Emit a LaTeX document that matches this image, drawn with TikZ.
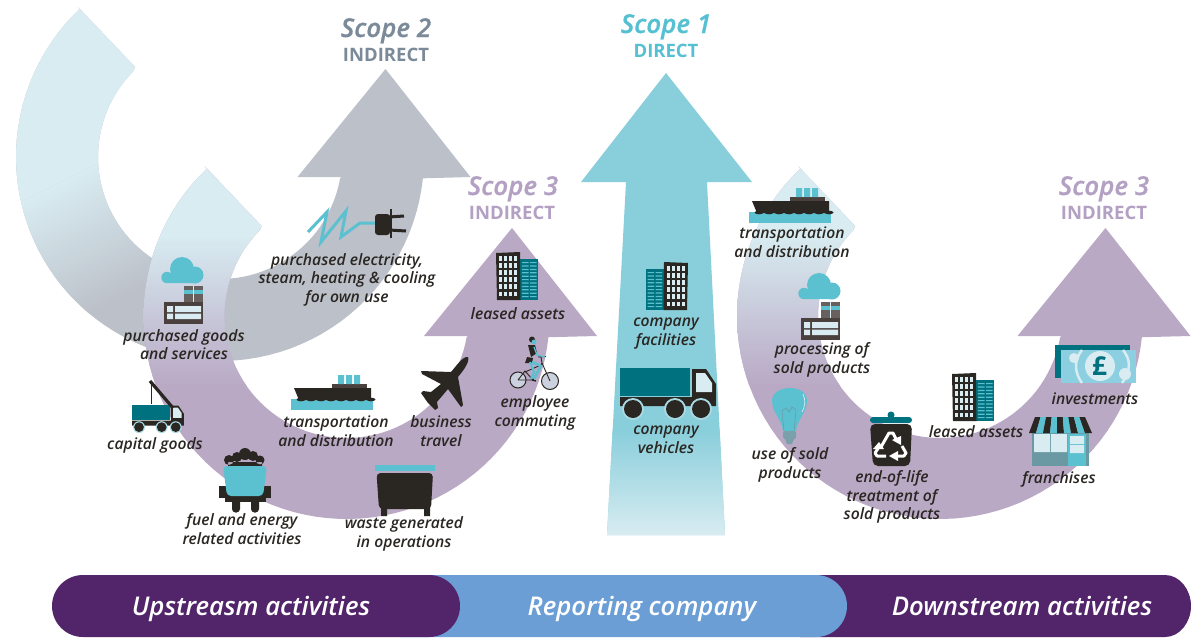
\documentclass[tikz,border=0pt]{standalone}
\usepackage{fontspec}
\setmainfont{Open Sans}[ItalicFont={Open Sans Semibold Italic}]
\definecolor{pale}{HTML}{D8ECF1}
\definecolor{graya}{HTML}{BCC0C9}
\definecolor{purp}{HTML}{B9A9C5}
\definecolor{sky}{HTML}{89CEDB}
\definecolor{dark}{HTML}{2A2622}
\definecolor{teal}{HTML}{00727F}
\definecolor{cyan}{HTML}{5BC0D0}
\definecolor{brown}{HTML}{68605E}
\definecolor{brownd}{HTML}{4A413F}
\definecolor{barpurple}{HTML}{52246A}
\definecolor{barblue}{HTML}{6C9ED6}
\definecolor{sctwo}{HTML}{7B8A99}
\definecolor{scone}{HTML}{55C0D1}
\definecolor{scthree}{HTML}{B3A0C3}
\definecolor{shopgray}{HTML}{6A99A3}
\definecolor{moneyb}{HTML}{8BCFE0}
\tikzset{
  lab/.style={font=\fontsize{15.7}{18.5}\selectfont\itshape,text=dark,align=center,inner sep=0pt},
  sctitle/.style={font=\fontsize{26}{28}\selectfont\itshape\addfontfeature{FakeBold=0.6},inner sep=0pt,anchor=base},
  scsub/.style={font=\fontsize{18.5}{22}\selectfont\bfseries,inner sep=0pt,anchor=base},
  barlab/.style={font=\fontsize{25.8}{28}\selectfont\itshape,text=white,inner sep=0pt,anchor=base}
}
% curved arrow outline: centre x, centre y, outer and inner radius
\newcommand{\carrow}[4]{
  ({#1-142},{#2-150}) -- plot[domain=226.5:6,samples=70] ({#1+#3*cos(\x)},{#2+#3*sin(\x)})
  -- ({#1+250.5},{#2+20}) -- ({#1+165.5},{#2-88}) -- ({#1+77.5},{#2+20}) -- ({#1+#4},{#2+20})
  -- plot[domain=10:225,samples=70] ({#1+#4*cos(\x)},{#2+#4*sin(\x)}) -- ({#1-85},{#2-90}) -- cycle}
\newcommand{\factoryicon}{
  \fill[cyan,rounded corners=2pt] (166,276) rectangle (196,283);
  \fill[cyan] (182,269) circle (12) (167,277.5) circle (5.7) (195,275) circle (8.5);
  \fill[brown] (184,286) rectangle (203,302);
  \fill[cyan] (184,289.5) rectangle (203,294);
  \fill[pale] (193.3,286) rectangle (194.1,302);
  \fill[brownd] (164,302) rectangle (203,324);
  \fill[pale] (167,306) rectangle (173,312) (167,313.5) rectangle (173,319) (175,306) rectangle (201,312) (175,313.5) rectangle (201,319);
}
\newcommand{\shipicon}{
  \fill[cyan] (291,399) rectangle (373,410);
  \fill[dark] (294,388) -- (371,388) -- (371,400) -- (299,400) -- cycle;
  \foreach \i in {0,...,7} \fill[dark] (301+\i*10,399.5) ellipse (4.5 and 1.8);
  \fill[brownd] (332,384) rectangle (367,388);
  \fill[cyan] (338,375) rectangle (344,384) (346,375) rectangle (352,384) (354,375) rectangle (360,384);
}
\newcommand{\buildingicon}{
  \fill[teal] (24,7) rectangle (42,48);
  \foreach \r in {0,...,10} {
    \fill[cyan] (26,10+\r*3.4) rectangle (32.5,11.2+\r*3.4) (34,10+\r*3.4) rectangle (40.5,11.2+\r*3.4);
  }
  \fill[dark] (0,1) -- (24,0) -- (24.5,48) -- (1,48) -- cycle;
  \foreach \c in {0,1,2,3} \foreach \r in {0,...,5}
    \fill[pale] (3+\c*5,4+\r*7.1) rectangle (6.3+\c*5,8.8+\r*7.1);
}
\newcommand{\truckicon}{
  \fill[teal] (0,0) rectangle (70,28);
  \fill[dark] (72,1) -- (86,1) -- (96,16) -- (96,38) -- (0,38) -- (0,29) -- (72,29) -- cycle;
  \fill[pale] (76,5) -- (85,5) -- (92,15) -- (92,24) -- (76,24) -- cycle;
  \foreach \a in {13,55,81} {
    \fill[sky!60!pale] (\a,41) circle (11);
    \fill[dark] (\a,41) circle (9);
  }
}
\begin{document}
\begin{tikzpicture}[x=1pt,y=-1pt]
\useasboundingbox (0,0) rectangle (1191,637);
\fill[white] (0,0) rectangle (1191,637);

% --- Scope 2 arrow
\fill[graya] \carrow{220}{157}{204}{122};
\begin{scope}
  \clip \carrow{220}{157}{204}{122};
  \clip (0,0) rectangle (222,400);
  \begin{scope}[transform canvas={rotate around={26.7:(0,0)}}]
    \fill[pale] (-600,-400) rectangle (800,190);
    \shade[top color=pale,bottom color=graya] (-600,190) rectangle (800,320);
  \end{scope}
\end{scope}

% --- Scope 3 left arrow
\fill[purp] \carrow{346.5}{316}{203}{122};
\begin{scope}
  \clip \carrow{346.5}{316}{203}{122};
  \clip (100,100) rectangle (346,600);
  \fill[pale] (100,100) rectangle (346,235);
  \shade[top color=pale,bottom color=purp] (100,235) rectangle (346,385);
\end{scope}

% --- Scope 3 right arrow
\fill[purp] \carrow{940}{316}{203}{122};
\begin{scope}
  \clip \carrow{940}{316}{203}{122};
  \clip (700,100) rectangle (939,600);
  \fill[pale] (700,100) rectangle (939,235);
  \shade[top color=pale,bottom color=purp] (700,235) rectangle (939,385);
\end{scope}

% --- Scope 1 arrow
\fill[sky] (666,73) -- (752,182) -- (707,182) -- (725,535) -- (607,535) -- (626,182) -- (581,182) -- cycle;
\begin{scope}
  \clip (666,73) -- (752,182) -- (707,182) -- (725,535) -- (607,535) -- (626,182) -- (581,182) -- cycle;
  \shade[top color=sky,bottom color=pale] (590,430) rectangle (740,535);
\end{scope}

% --- bottom bar
\fill[barpurple] (800,575) -- (1165,575) .. controls (1180,575) and (1191,590) .. (1191,606) .. controls (1191,622) and (1180,637) .. (1165,637) -- (800,637) -- cycle;
\fill[barblue] (400,575) -- (816,575) .. controls (833.1,575) and (847,588.9) .. (847,606) .. controls (847,623.1) and (833.1,637) .. (816,637) -- (400,637) -- cycle;
\fill[barpurple] (83,575) -- (429,575) .. controls (446.1,575) and (460,588.9) .. (460,606) .. controls (460,623.1) and (446.1,637) .. (429,637) -- (83,637) .. controls (65.9,637) and (52,623.1) .. (52,606) .. controls (52,588.9) and (65.9,575) .. (83,575) -- cycle;
\node[barlab] (up) at (251,615) {Upstreasm activities};
\node[barlab] (rep) at (642,615) {Reporting company};
\node[barlab] (down) at (1022,615) {Downstream activities};

% --- titles
\node[sctitle,text=sctwo] (s2) at (386,37) {Scope 2};
\node[scsub,text=sctwo] (s2b) at (386,61) {INDIRECT};
\node[sctitle,text=scone] (s1) at (666,33) {Scope 1};
\node[scsub,text=scone] (s1b) at (666,57) {DIRECT};
\node[sctitle,text=scthree] (s3) at (513,195) {Scope 3};
\node[scsub,text=scthree] (s3b) at (512,219) {INDIRECT};
\node[sctitle,text=scthree] (s3r) at (1104,195) {Scope 3};
\node[scsub,text=scthree] (s3rb) at (1104,219) {INDIRECT};

% --- icons
\factoryicon
\begin{scope}[shift={(637,16)}]\factoryicon\end{scope}
\shipicon
\begin{scope}[shift={(458,-187)}]\shipicon\end{scope}
\begin{scope}[shift={(496,252)}]\buildingicon\end{scope}
\begin{scope}[shift={(952,373)}]\buildingicon\end{scope}
\begin{scope}[shift={(688,262)},xscale=-1]\buildingicon\end{scope}
\begin{scope}[shift={(620,368)}]\truckicon\end{scope}
\begin{scope}[shift={(132,405)},scale=0.54]\truckicon\end{scope}
% crane
\draw[dark,line width=3.2pt] (150,381) -- (173,408);
\draw[dark,line width=0.8pt] (151,383) -- (151,404);

% plug
\draw[cyan,line width=3pt,line join=miter] (308,232) -- (327,212) -- (321,242) -- (346,211) -- (341,237) -- (360,223) -- (376,223);
\fill[dark,rounded corners=3pt] (375,214) rectangle (390,235);
\draw[dark,line width=2pt] (391,209) -- (391,238);
\draw[dark,line width=3pt] (389,217) -- (404,216);
\draw[dark,line width=3pt] (389,230) -- (406,231);

% plane
\fill[dark] (468,357) .. controls (470,362) and (463,371) .. (458,377) -- (463,405) -- (461,407) -- (448,389) -- (437,402) -- (438,408) -- (435,410) -- (428,403) -- (421,393) -- (423,391) -- (431,392) -- (441,384) -- (422,374) -- (421,371) -- (451,372) .. controls (457,365) and (463,356) .. (468,357) -- cycle;

% cyclist
\draw[dark,fill=pale!60!purp,line width=1pt] (518,380) circle (8) (550,381) circle (8.5);
\draw[dark,line width=0.9pt] (518,380) -- (533,380) -- (525,371) -- (518,380) (525,372) -- (541,365) (533,380) -- (542,363) -- (550,381) (538,357) -- (546,356.5) (542,363) -- (541,357);
\fill[dark] (532,339.5) circle (3);
\fill[cyan] (534,342) circle (2.4);
\fill[dark] (528,345) -- (535,345) -- (537,353) -- (531,357) -- cycle;
\fill[dark] (527,357) -- (533,358) -- (532,363) -- (525,363) -- cycle;
\draw[cyan,line width=1.3pt] (534,347) -- (537,355) -- (545,357);
\draw[cyan,line width=2.6pt,line join=round] (532,362) -- (541,366) -- (534,379);
\draw[cyan,line width=2.2pt,line join=round] (530,362) -- (534,372) -- (531,379);
\draw[dark,line width=1.4pt] (532,380) -- (536,381);

% mine cart
\fill[dark] (219,486) rectangle (271,498);
\fill[dark] (225,498) rectangle (266,502);
\fill[dark,rounded corners=3.5pt] (232,498) rectangle (240,512.5) (251,498) rectangle (259,512.5);
\fill[dark] (229,460) circle (5) (237,457) circle (5) (245,454) circle (6) (253,456) circle (5) (260,460) circle (4.5) (228,462) rectangle (262,468);
\fill[cyan,rounded corners=4pt] (223,466) -- (267,466) -- (263,496) -- (227,496) -- cycle;

% waste bin
\fill[cyan] (375,465) rectangle (435,471);
\fill[dark] (381,505) rectangle (387,516) (424,505) rectangle (430,516);
\fill[dark,rounded corners=4pt] (376.5,473) -- (433,473) -- (431,509) -- (379,509) -- cycle;

% bulb
\fill[cyan] (783,431) .. controls (782,420) and (772,412) .. (772,401) .. controls (772,393) and (780,388) .. (790,388) .. controls (800,388) and (807,393) .. (807,401) .. controls (807,412) and (797,420) .. (796,431) -- cycle;
\fill[shopgray!80!graya,rounded corners=1.5pt] (783,431) rectangle (796,439);
\fill[shopgray!80!graya] (785,439) -- (794,439) -- (792,444) -- (787,444) -- cycle;
\draw[shopgray,line width=0.5pt] (784,431) -- (782,411) -- (786,408) -- (789,412) -- (792,407) -- (796,410) -- (794,431);
\draw[pale,line width=0.7pt] (803,394) .. controls (806,400) and (805,407) .. (802,412);

% recycle bin
\fill[teal] (891,415) circle (3.5);
\fill[teal,rounded corners=3pt] (870,417) rectangle (912,423);
\fill[dark,rounded corners=5pt] (870,424) -- (912,424) -- (910,466) -- (873,466) -- cycle;
\draw[white,line width=3pt,line join=round] (881,447) -- (889,433) -- (893,433) -- (896,439);
\fill[white] (892,440) -- (901,436) -- (901,445) -- cycle;
\draw[white,line width=3pt,line join=round] (902,446) -- (906,453) -- (904,456) -- (897,456);
\fill[white] (898,451) -- (889,456) -- (898,461) -- cycle;
\draw[white,line width=3pt,line join=round] (886,456) -- (877,456) -- (875,453) -- (879,447);
\fill[white] (873,449) -- (884,449) -- (879,442) -- cycle;

% money
\fill[teal] (1055,345) rectangle (1130,378);
\fill[moneyb] (1061,350) rectangle (1136,383);
\fill[pale] (1074,358) circle (5) (1125,374) circle (6);
\draw[pale,line width=2.5pt] (1082,350) .. controls (1074,360) and (1074,372) .. (1082,383) (1123,350) .. controls (1131,360) and (1131,370) .. (1122,383);
\fill[pale] (1100,366) circle (15);
\node[inner sep=0pt,text=teal,font=\fontsize{26}{26}\selectfont\bfseries] (pound) at (1099.5,366) {£};

% shop
\fill[shopgray] (1032,433) rectangle (1089,466);
\fill[pale] (1034,434) rectangle (1050,452) (1051,434) rectangle (1067,452);
\fill[cyan] (1068,434) rectangle (1086,466);
\fill[pale] (1070,436) rectangle (1084,444) (1070,445) rectangle (1084,453);
\foreach \i in {0,...,8} {
  \pgfmathsetmacro{\ta}{1035+\i*50/9}\pgfmathsetmacro{\tb}{1035+(\i+1)*50/9}
  \pgfmathsetmacro{\ba}{1029+\i*63/9}\pgfmathsetmacro{\bb}{1029+(\i+1)*63/9}
  \pgfmathparse{int(mod(\i,2))}
  \ifnum\pgfmathresult=0 \fill[dark] (\ta,417) -- (\tb,417) -- (\bb,433) -- (\ba,433) -- cycle;
  \else \fill[cyan] (\ta,417) -- (\tb,417) -- (\bb,433) -- (\ba,433) -- cycle; \fi
}

% --- labels
\node[lab] (l1) at (347,279.5) {purchased electricity,\\steam, heating \& cooling\\for own use};
\node[lab] (l2) at (518,313.5) {leased assets};
\node[lab] (l3) at (184,344.5) {purchased goods\\and services};
\node[lab] (l4) at (155,445) {capital goods};
\node[lab] (l5) at (336,431) {transportation\\and distribution};
\node[lab] (l6) at (441,431) {business\\travel};
\node[lab] (l7) at (535,413) {employee\\commuting};
\node[lab] (l8) at (242,529) {fuel and energy\\related activities};
\node[lab] (l9) at (404,534) {waste generated\\in operations};
\node[lab] (l10) at (666,333.5) {company\\facilities};
\node[lab] (l11) at (666,440) {company\\vehicles};
\node[lab] (l12) at (792,242) {transportation\\and distribution};
\node[lab] (l13) at (822,360) {processing of\\sold products};
\node[lab] (l14) at (790,465) {use of sold\\products};
\node[lab] (l15) at (892,497) {end-of-life\\treatment of\\sold products};
\node[lab] (l16) at (976,432) {leased assets};
\node[lab] (l17) at (1095,399) {investments};
\node[lab] (l18) at (1059,479) {franchises};
\end{tikzpicture}
\end{document}
